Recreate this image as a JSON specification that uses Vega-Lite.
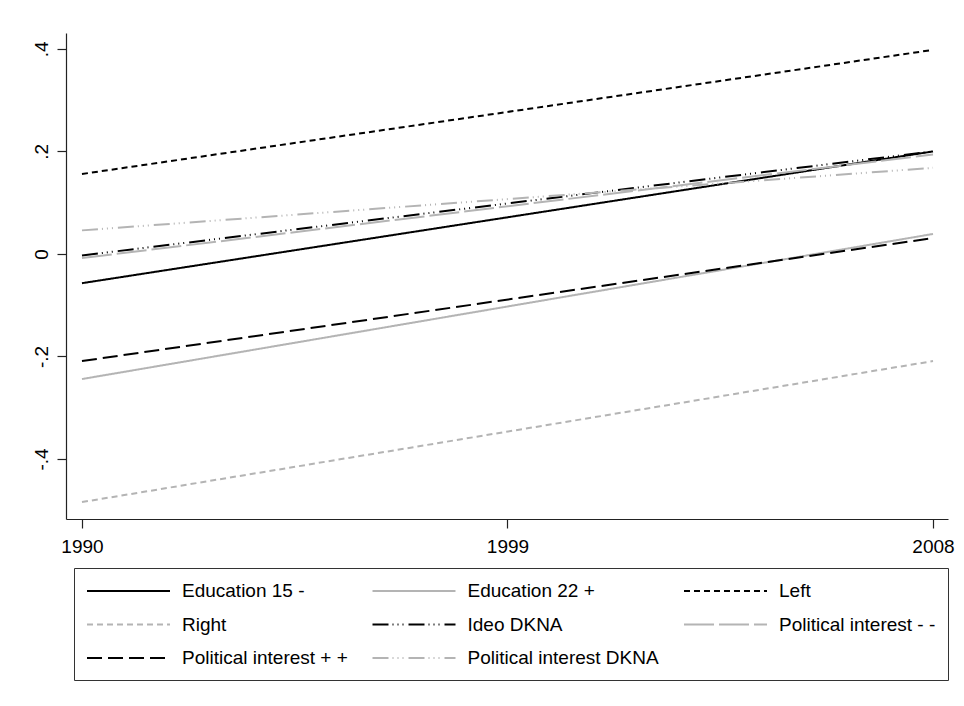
{
  "$schema": "https://vega.github.io/schema/vega-lite/v6.json",
  "width": 882,
  "height": 486,
  "autosize": {"type": "none"},
  "padding": {"left": 66, "top": 33, "right": 16, "bottom": 187},
  "background": "white",
  "config": {
    "view": {"stroke": null},
    "font": "Liberation Sans",
    "axis": {"domainColor": "#222", "tickColor": "#222", "domainWidth": 1.2, "tickWidth": 1.2, "tickSize": 9, "labelFontSize": 19, "labelColor": "#000", "grid": false, "title": null}
  },
  "data": {
    "values": [
      {"series": "Education 15 -", "year": 1990, "value": -0.057},
      {"series": "Education 15 -", "year": 2008, "value": 0.200},
      {"series": "Education 22 +", "year": 1990, "value": -0.244},
      {"series": "Education 22 +", "year": 2008, "value": 0.039},
      {"series": "Left", "year": 1990, "value": 0.156},
      {"series": "Left", "year": 2008, "value": 0.398},
      {"series": "Right", "year": 1990, "value": -0.484},
      {"series": "Right", "year": 2008, "value": -0.209},
      {"series": "Ideo DKNA", "year": 1990, "value": -0.003},
      {"series": "Ideo DKNA", "year": 2008, "value": 0.200},
      {"series": "Political interest - -", "year": 1990, "value": -0.008},
      {"series": "Political interest - -", "year": 2008, "value": 0.194},
      {"series": "Political interest + +", "year": 1990, "value": -0.209},
      {"series": "Political interest + +", "year": 2008, "value": 0.031},
      {"series": "Political interest DKNA", "year": 1990, "value": 0.046},
      {"series": "Political interest DKNA", "year": 2008, "value": 0.168}
    ]
  },
  "mark": {"type": "line", "strokeWidth": 2},
  "encoding": {
    "x": {
      "field": "year", "type": "quantitative",
      "scale": {"domain": [1989.662, 2008.317], "nice": false, "zero": false},
      "axis": {"values": [1990, 1999, 2008], "format": "d", "labelPadding": 9, "labelFlush": false}
    },
    "y": {
      "field": "value", "type": "quantitative",
      "scale": {"domain": [-0.517, 0.431], "nice": false, "zero": false},
      "axis": {
        "values": [-0.4, -0.2, 0, 0.2, 0.4],
        "labelExpr": "datum.value == 0 ? '0' : (datum.value < 0 ? '-' : '') + '.' + round(abs(datum.value) * 10)",
        "labelAngle": 270, "labelAlign": "center", "labelBaseline": "alphabetic", "labelPadding": 10
      }
    },
    "color": {
      "field": "series", "type": "nominal",
      "scale": {
        "domain": ["Education 15 -", "Education 22 +", "Left", "Right", "Ideo DKNA", "Political interest - -", "Political interest + +", "Political interest DKNA"],
        "range": ["#000000", "#b4b4b4", "#000000", "#b4b4b4", "#000000", "#b4b4b4", "#000000", "#b4b4b4"]
      },
      "legend": {
        "title": null, "orient": "none", "legendX": 8, "legendY": 535, "columns": 3, "direction": "horizontal",
        "symbolType": "M-1,0H7.3", "symbolSize": 400, "symbolStrokeWidth": 2,
        "labelFontSize": 19, "labelColor": "#000", "labelOffset": 74, "labelLimit": 400,
        "columnPadding": 20.5, "rowPadding": 12.5, "padding": 12,
        "strokeColor": "#333", "fillColor": "white"
      }
    },
    "strokeDash": {
      "field": "series", "type": "nominal",
      "scale": {
        "domain": ["Education 15 -", "Education 22 +", "Left", "Right", "Ideo DKNA", "Political interest - -", "Political interest + +", "Political interest DKNA"],
        "range": [[1, 0], [1, 0], [6, 4], [6, 4], [16, 4, 1, 4, 1, 4, 1, 5], [30, 5], [15, 6], [16, 4, 1, 4, 1, 4, 1, 5]]
      }
    }
  }
}
